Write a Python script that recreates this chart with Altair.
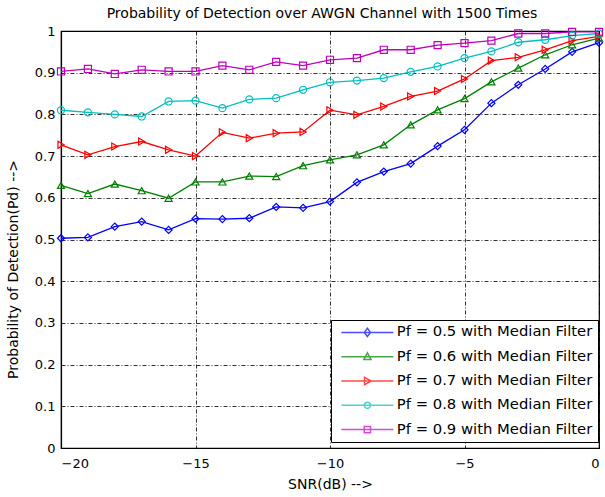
import altair as alt
import pandas as pd

snr = list(range(-20, 1))
labels = ["Pf = 0.5 with Median Filter", "Pf = 0.6 with Median Filter",
          "Pf = 0.7 with Median Filter", "Pf = 0.8 with Median Filter",
          "Pf = 0.9 with Median Filter"]
pf05 = [0.503, 0.505, 0.531, 0.543, 0.523, 0.550, 0.549, 0.551, 0.578, 0.576, 0.591,
        0.637, 0.663, 0.682, 0.724, 0.763, 0.827, 0.871, 0.909, 0.950, 0.972]
pf06 = [0.630, 0.610, 0.633, 0.617, 0.599, 0.638, 0.638, 0.652, 0.651, 0.677, 0.691,
        0.703, 0.727, 0.775, 0.811, 0.838, 0.878, 0.911, 0.943, 0.967, 0.983]
pf07 = [0.727, 0.703, 0.723, 0.735, 0.715, 0.700, 0.757, 0.743, 0.755, 0.758, 0.810,
        0.799, 0.819, 0.843, 0.856, 0.885, 0.929, 0.937, 0.955, 0.977, 0.987]
pf08 = [0.810, 0.805, 0.800, 0.795, 0.831, 0.833, 0.815, 0.836, 0.839, 0.859, 0.877,
        0.881, 0.887, 0.902, 0.915, 0.935, 0.951, 0.973, 0.979, 0.989, 0.994]
pf09 = [0.903, 0.909, 0.897, 0.907, 0.903, 0.903, 0.917, 0.907, 0.926, 0.917, 0.931,
        0.935, 0.955, 0.955, 0.966, 0.971, 0.977, 0.994, 0.994, 0.998, 0.998]
colors = ["#0000FF", "#008000", "#FF0000", "#00BFBF", "#BF00BF"]
shapes = ["diamond", "triangle-up", "triangle-right", "circle", "square"]
legend_paths = [
    "M-5,0H5M-0.6,0L0,-0.8L0.6,0L0,0.8Z",
    "M-5,0H5M0,-0.75L0.7,0.55L-0.7,0.55Z",
    "M-5,0H5M-0.55,-0.7L0.75,0L-0.55,0.7Z",
    "M-5,0H5M0.6,0A0.6,0.6,0,1,1,-0.6,0A0.6,0.6,0,1,1,0.6,0Z",
    "M-5,0H5M-0.6,-0.6H0.6V0.6H-0.6Z",
]

rows = []
for lab, vals in zip(labels, [pf05, pf06, pf07, pf08, pf09]):
    for s, v in zip(snr, vals):
        rows.append({"snr": s, "pd": v, "series": lab})
df = pd.DataFrame(rows)

FONT = "DejaVu Sans"
x = alt.X("snr:Q", scale=alt.Scale(domain=[-20, 0], nice=False),
          axis=alt.Axis(values=[-20, -15, -10, -5, 0], format="d",
                        title="SNR(dB) -->", titleY=36, titleBaseline="middle"))
y = alt.Y("pd:Q", scale=alt.Scale(domain=[0, 1], nice=False),
          axis=alt.Axis(values=[0, 0.1, 0.2, 0.3, 0.4, 0.5, 0.6, 0.7, 0.8, 0.9, 1],
                        format="~g", title="Probability of Detection(Pd) -->",
                        titleX=-48, titleY=238, titleBaseline="middle"))
color_scale = alt.Scale(domain=labels, range=colors)

lines = alt.Chart(df).mark_line(strokeWidth=1.3).encode(
    x=x, y=y,
    color=alt.Color("series:N", scale=color_scale, legend=None),
)
points = alt.Chart(df).mark_point(filled=False, size=50, strokeWidth=1.2, opacity=1).encode(
    x=x, y=y,
    color=alt.Color("series:N", scale=color_scale, legend=None),
    shape=alt.Shape("series:N", scale=alt.Scale(domain=labels, range=shapes), legend=None),
)
legend_layer = alt.Chart(df).transform_filter("false").mark_point(
    filled=False, size=108, strokeWidth=1.5).encode(
    x=x, y=y,
    color=alt.Color("series:N", scale=color_scale,
                    legend=alt.Legend(title=None, orient="none", legendX=270, legendY=289)),
    shape=alt.Shape("series:N", scale=alt.Scale(domain=labels, range=legend_paths),
                    legend=alt.Legend(title=None, orient="none", legendX=270, legendY=289)),
)

chart = alt.layer(lines, points, legend_layer).resolve_scale(
    color="independent", shape="independent"
).properties(
    width=538, height=417,
    title=alt.TitleParams("Probability of Detection over AWGN Channel with 1500 Times",
                          font=FONT, fontSize=14, fontWeight="normal", color="black",
                          anchor="middle", offset=4, dx=-8),
    padding={"left": 61, "top": 31, "right": 6, "bottom": 49},
    autosize=alt.AutoSizeParams(type="none"),
).configure_view(
    stroke="black", strokeWidth=1.2
).configure_axis(
    labelFont=FONT, labelFontSize=13, labelColor="black",
    titleFont=FONT, titleFontSize=14, titleFontWeight="normal", titleColor="black",
    domainColor="black", domainWidth=1.2,
    grid=True, gridColor="black", gridDash=[4, 2, 1, 2], gridWidth=0.9, gridOpacity=0.9,
    ticks=False,
).configure_axisX(labelPadding=9).configure_axisY(labelPadding=6).configure_legend(
    strokeColor="black", fillColor="white", padding=5, cornerRadius=0,
    symbolSize=108, symbolStrokeWidth=1.5, symbolOffset=24, labelOffset=22,
    labelFont=FONT, labelFontSize=14.8, labelColor="black", labelLimit=0, rowPadding=8.3,
)

chart.save("out.html", embed_options={"renderer": "svg", "actions": False})
